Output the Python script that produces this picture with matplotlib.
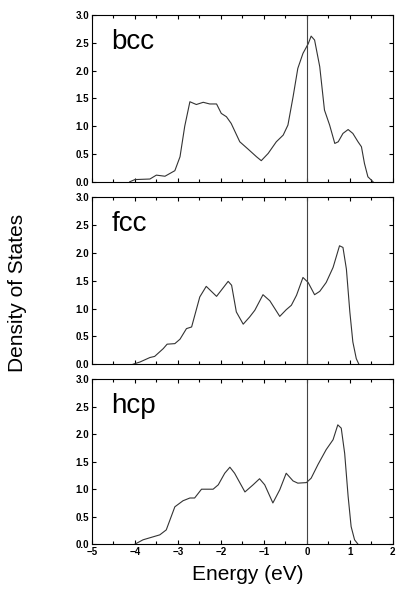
import numpy as np
import matplotlib
matplotlib.use("Agg")
import matplotlib.pyplot as plt
from matplotlib.ticker import MultipleLocator

# Density of states (energy in eV, DOS)
bcc_e = [-4.12, -4.0, -3.65, -3.5, -3.3, -3.07, -2.95, -2.84, -2.72, -2.57, -2.41, -2.26,
         -2.1, -1.99, -1.87, -1.76, -1.56, -1.37, -1.17, -1.06, -0.9, -0.71, -0.55, -0.44,
         -0.32, -0.21, -0.09, 0.03, 0.10, 0.18, 0.30, 0.41, 0.53, 0.65, 0.73, 0.84, 0.96,
         1.07, 1.19, 1.27, 1.34, 1.42, 1.54]
bcc_d = [0.0, 0.04, 0.05, 0.12, 0.10, 0.20, 0.45, 1.0, 1.44, 1.39, 1.43, 1.40,
         1.40, 1.23, 1.17, 1.05, 0.72, 0.59, 0.45, 0.38, 0.51, 0.72, 0.84, 1.02,
         1.53, 2.04, 2.31, 2.48, 2.62, 2.55, 2.07, 1.29, 1.02, 0.69, 0.72, 0.87, 0.94,
         0.87, 0.72, 0.63, 0.33, 0.09, 0.0]

fcc_e = [-4.04, -3.88, -3.65, -3.54, -3.34, -3.25, -3.07, -2.95, -2.8, -2.68, -2.49, -2.34,
         -2.1, -1.83, -1.75, -1.64, -1.48, -1.33, -1.21, -1.02, -0.86, -0.63, -0.48, -0.36,
         -0.24, -0.09, 0.03, 0.18, 0.30, 0.45, 0.61, 0.76, 0.84, 0.92, 1.0, 1.07, 1.15, 1.21]
fcc_d = [0.0, 0.04, 0.12, 0.14, 0.28, 0.36, 0.37, 0.45, 0.64, 0.67, 1.21, 1.40,
         1.22, 1.49, 1.42, 0.94, 0.72, 0.85, 0.97, 1.25, 1.14, 0.86, 0.98, 1.06,
         1.24, 1.56, 1.47, 1.25, 1.31, 1.47, 1.74, 2.13, 2.10, 1.71, 0.94, 0.40, 0.10, 0.0]

hcp_e = [-4.0, -3.81, -3.42, -3.27, -3.07, -2.88, -2.72, -2.61, -2.45, -2.18, -2.06, -1.91,
         -1.79, -1.68, -1.44, -1.25, -1.10, -0.98, -0.79, -0.63, -0.48, -0.32, -0.21, -0.01,
         0.10, 0.26, 0.45, 0.61, 0.72, 0.80, 0.88, 0.96, 1.03, 1.11, 1.19]
hcp_d = [0.0, 0.08, 0.17, 0.26, 0.68, 0.79, 0.84, 0.84, 1.0, 1.0, 1.08, 1.29,
         1.40, 1.29, 0.95, 1.08, 1.19, 1.08, 0.75, 0.99, 1.29, 1.15, 1.11, 1.12,
         1.20, 1.45, 1.72, 1.90, 2.17, 2.11, 1.65, 0.87, 0.32, 0.08, 0.0]

panels = [("bcc", bcc_e, bcc_d), ("fcc", fcc_e, fcc_d), ("hcp", hcp_e, hcp_d)]

plt.rcParams["font.family"] = ["Liberation Sans", "DejaVu Sans"]

fig = plt.figure(figsize=(3.96, 6.0), dpi=100)
boxes = [[0.232, 0.697, 0.760, 0.278],
         [0.232, 0.393, 0.760, 0.278],
         [0.232, 0.093, 0.760, 0.275]]

for box, (name, e, d) in zip(boxes, panels):
    ax = fig.add_axes(box)
    ax.plot(e, d, color="#333333", lw=0.8)
    ax.axvline(0, color="#444444", lw=0.8)
    ax.set_xlim(-5, 2)
    ax.set_ylim(0, 3)
    ax.xaxis.set_major_locator(MultipleLocator(1))
    ax.xaxis.set_minor_locator(MultipleLocator(0.5))
    ax.yaxis.set_major_locator(MultipleLocator(0.5))
    ax.tick_params(which="both", direction="in", top=True, right=True,
                   labelsize=7, width=0.8, pad=2)
    ax.tick_params(which="major", length=3)
    ax.tick_params(which="minor", length=2)
    for lab in ax.get_xticklabels() + ax.get_yticklabels():
        lab.set_fontweight("bold")
    for sp in ax.spines.values():
        sp.set_linewidth(0.8)
    ax.text(0.065, 0.84, name, transform=ax.transAxes, fontsize=20,
            ha="left", va="center")
    if name != "hcp":
        ax.set_xticklabels([])

fig.text(0.045, 0.512, "Density of States", rotation=90, fontsize=15,
         ha="center", va="center")
fig.text(0.626, 0.042, "Energy (eV)", fontsize=15, ha="center", va="center")

fig.savefig("out.png", dpi=100)
